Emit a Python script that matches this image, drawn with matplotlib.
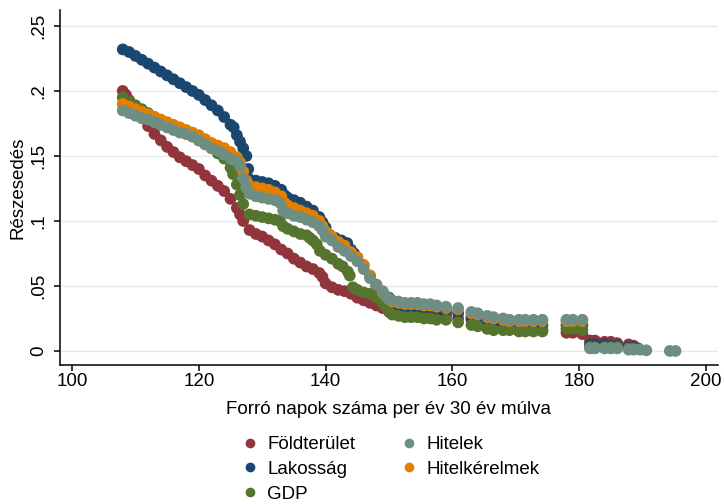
import matplotlib
matplotlib.use('Agg')
import matplotlib.pyplot as plt
from matplotlib.lines import Line2D

plt.rcParams['font.family'] = ['Liberation Sans', 'DejaVu Sans']

# Földterület
x_fold = [108, 108.5, 109, 110, 111, 112, 113, 114, 115, 116, 117, 118, 119, 120,
          121, 122, 123, 124, 125, 126, 126.5, 127, 128, 129, 130, 131, 132, 133, 134,
          135, 136, 137, 138, 139, 139.5, 140, 141, 142, 143, 144, 145, 146, 147,
          148, 149, 150, 150.5, 151.5, 152.5, 153.5, 154.5, 155.5, 156.5, 157.5, 159,
          160.9, 163, 164, 165.5, 166.5, 168, 169, 170.5, 171.5, 172.8, 174.2,
          178, 179, 180.5, 181.7, 182.5, 184, 185, 186, 187.8, 188.6, 189.3]
y_fold = [.200, .197, .193, .187, .180, .173, .167, .162, .157, .153, .149, .146, .143, .140,
          .135, .131, .127, .123, .117, .110, .105, .100, .093, .090, .088, .085, .082, .078, .075,
          .071, .068, .065, .063, .060, .057, .052, .049, .047, .046, .044, .041, .039, .037,
          .035, .033, .032, .032, .031, .031, .030, .030, .030, .029, .029, .027,
          .025, .024, .022, .021, .020, .019, .018, .018, .017, .017, .016,
          .014, .014, .013, .008, .008, .007, .007, .006, .005, .004, .002]

# Lakosság
x_lak = [108, 109, 110, 111, 112, 113, 114, 115, 116, 117, 118, 119, 120, 121, 122, 123,
         124, 125, 125.5, 126, 126.5, 127, 127.5, 127.8, 128, 129, 130, 131, 132, 133,
         133.5, 134, 135, 136, 137, 138, 139, 139.5, 140, 140.7, 141.5, 142.5, 143.4,
         144, 144.5, 145, 146, 147, 148, 149, 150,
         150.5, 151.5, 152.5, 153.5, 154.5, 155.5, 156.5, 157.5, 159,
         160.9, 163, 164, 165.5, 166.5, 168, 169, 170.5, 171.5, 172.8, 174.2,
         178, 179, 180.5, 181.7, 182.5, 184, 185, 186, 187.8, 188.6]
y_lak = [.232, .230, .227, .224, .221, .218, .215, .212, .209, .206, .203, .200, .197, .193, .189, .185,
         .180, .174, .172, .166, .161, .156, .150, .140, .132, .131, .130, .129, .127, .124,
         .120, .118, .116, .114, .111, .108, .103, .099, .095, .089, .087, .085, .083,
         .078, .075, .072, .066, .058, .050, .045, .041,
         .036, .035, .034, .033, .033, .032, .032, .031, .030,
         .029, .026, .025, .023, .022, .021, .020, .020, .020, .020, .020,
         .020, .020, .020, .005, .005, .005, .004, .004, .003, .003]

# GDP
x_gdp = [108, 109, 110, 111, 112, 113, 114, 115, 116, 117, 118, 119, 120, 121, 122, 123,
         124, 125, 125.4, 126, 126.5, 127, 128, 129, 130, 131, 132, 132.8, 133.3, 134,
         135, 136, 137, 137.5, 138, 138.6, 139.1, 140, 141, 142, 142.7, 143.5, 143.8,
         144.3, 145, 146, 147, 148, 149, 149.5, 150,
         150.5, 151.5, 152.5, 153.5, 154.5, 155.5, 156.5, 157.5, 159,
         160.9, 163, 164, 165.5, 166.5, 168, 169, 170.5, 171.5, 172.8, 174.2,
         178, 179, 180.5, 181.7, 182.5, 184, 185, 186, 187.8, 188.6]
y_gdp = [.195, .192, .189, .186, .183, .180, .177, .174, .171, .169, .167, .165, .162, .159, .156, .152,
         .148, .141, .136, .128, .120, .113, .105, .104, .103, .102, .101, .100, .096, .094,
         .092, .090, .089, .087, .085, .082, .077, .074, .071, .067, .065, .061, .058,
         .049, .047, .045, .044, .041, .037, .034, .030,
         .028, .027, .026, .026, .026, .025, .025, .024, .024,
         .022, .020, .019, .017, .016, .016, .016, .015, .015, .015, .015,
         .017, .017, .016, .003, .003, .003, .003, .003, .002, .002]

# Hitelek
x_hit = [108, 109, 110, 111, 112, 113, 114, 115, 116, 117, 118, 119, 120, 121, 122, 123,
         124, 125, 125.5, 126, 126.5, 127, 127.5, 128, 129, 130, 131, 132, 132.8, 133.3,
         134, 135, 136, 137, 138, 139, 139.5, 140, 141, 142, 143, 144, 145, 146, 147,
         148, 149, 149.5, 150,
         150.5, 151.5, 152.5, 153.5, 154.5, 155.5, 156.5, 157.5, 159,
         160.9, 163, 164, 165.5, 166.5, 168, 169, 170.5, 171.5, 172.8, 174.2,
         178, 179, 180.5, 181.7, 182.5, 184, 185, 186, 187.8, 188.6, 189.6, 190.6,
         194.3, 195.2]
y_hit = [.185, .183, .181, .179, .178, .176, .174, .172, .170, .168, .167, .165, .162, .159, .156, .154,
         .151, .148, .147, .146, .142, .133, .126, .121, .119, .118, .117, .116, .114, .108,
         .106, .104, .103, .101, .099, .096, .093, .088, .085, .080, .077, .073, .069, .063, .056,
         .051, .046, .042, .040,
         .039, .038, .037, .037, .037, .036, .036, .035, .034,
         .033, .030, .029, .027, .026, .025, .024, .024, .024, .024, .024,
         .024, .024, .024, .002, .002, .002, .002, .002, .001, .001, .001, .0005,
         0, 0]

# Hitelkérelmek
x_hk = [108, 109, 110, 111, 112, 113, 114, 115, 116, 117, 118, 119, 120, 121, 122, 123,
        124, 125, 126, 126.5, 127, 127.5, 128, 129, 130, 131, 132, 133, 133.5, 134,
        135, 136, 137, 138, 139, 139.5, 140, 141, 142, 143, 144, 145, 146, 147, 148,
        149, 150,
        150.5, 151.5, 152.5, 153.5, 154.5, 155.5, 156.5, 157.5, 159,
        160.9, 163, 164, 165.5, 166.5, 168, 169, 170.5, 171.5, 172.8, 174.2,
        178, 179, 180.5]
y_hk = [.190, .188, .186, .184, .182, .180, .178, .176, .174, .172, .170, .168, .166, .163, .160, .158,
        .156, .153, .149, .145, .138, .131, .127, .126, .125, .124, .122, .119, .114, .112,
        .110, .108, .106, .104, .100, .096, .092, .088, .084, .081, .076, .072, .066, .058, .051,
        .045, .040,
        .038, .037, .036, .036, .036, .035, .035, .034, .033,
        .032, .029, .028, .026, .025, .024, .023, .023, .023, .023, .023,
        .023, .023, .023]

names = ['Földterület', 'Lakosság', 'GDP', 'Hitelek', 'Hitelkérelmek']
colors = ['#90353b', '#1a476f', '#55752f', '#6e8e84', '#e37e00']
xs = [x_fold, x_lak, x_gdp, x_hit, x_hk]
ys = [y_fold, y_lak, y_gdp, y_hit, y_hk]
zorders = [3, 4, 5, 7, 6]

fig = plt.figure(figsize=(7.24, 5.04), dpi=100)
ax = fig.add_axes([60 / 724, (504 - 365) / 504, 658 / 724, 355 / 504])

for x, y, c, z in zip(xs, ys, colors, zorders):
    ax.scatter(x, y, s=72, color=c, edgecolors='none', zorder=z)

ax.set_xlim(98.1, 201.9)
ax.set_ylim(-0.0108, 0.2623)
ax.set_xticks([100, 120, 140, 160, 180, 200])
ax.set_yticks([0, .05, .1, .15, .2, .25])
ax.set_yticklabels(['0', '.05', '.1', '.15', '.2', '.25'], rotation=90, va='center')
ax.yaxis.grid(True, color='#e6e9eb', lw=1)
ax.set_axisbelow(True)
for s in ['top', 'right']:
    ax.spines[s].set_visible(False)
for s in ['left', 'bottom']:
    ax.spines[s].set_linewidth(1.1)
ax.tick_params(labelsize=13.5, length=4, width=1.1, direction='out')
ax.tick_params(axis='y', pad=5)
ax.tick_params(axis='x', pad=2)
ax.set_xlabel('Forró napok száma per év 30 év múlva', fontsize=13.5, labelpad=8)
ax.set_ylabel('Részesedés', fontsize=13.5, labelpad=3)

handles = [Line2D([], [], ls='none', marker='o', markersize=7, color=c, markeredgewidth=0)
           for c in colors]
fig.legend(handles, names, ncol=2, loc='upper center', bbox_to_anchor=(0.54, 0.153),
           frameon=False, fontsize=13.5, handlelength=0.8, handletextpad=0.55,
           labelspacing=0.4, columnspacing=2.45, borderpad=0)

fig.savefig('out.png', dpi=100)
